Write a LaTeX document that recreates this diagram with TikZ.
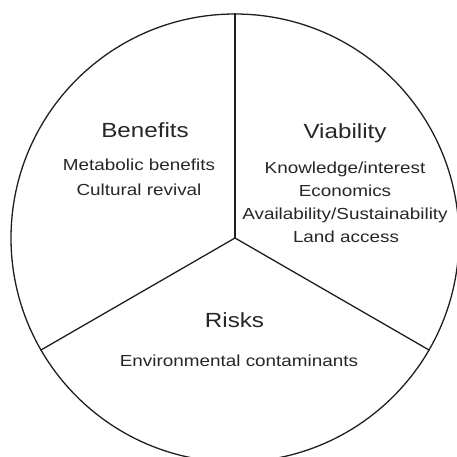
\documentclass[tikz,border=0pt]{standalone}
\usepackage{fontspec}
\setmainfont{Liberation Sans}[FakeStretch=1.18]
\begin{document}
\begin{tikzpicture}[x=1pt,y=-1pt,
  ink/.style={draw=black!88, line width=1.3pt},
  title/.style={anchor=base, inner sep=0pt, text=black!85, font=\fontsize{20.5}{24}\selectfont},
  item/.style={anchor=base, inner sep=0pt, text=black!85, font=\fontsize{16}{19}\selectfont}]
  \useasboundingbox (0,0) rectangle (456,457);
  % the wheel and its three spokes
  \coordinate (o) at (235,238);
  \node[circle, ink, minimum size=448pt, inner sep=0pt] (wheel) at (o) {};
  \draw[ink, line join=round] (wheel.90) -- (o);
  \draw[ink, line join=round] (wheel.210) -- (o) -- (wheel.330);
  % Benefits
  \node[title] (bt) at (145,137.7) {Benefits};
  \node[item] (b1) at (139,171) {Metabolic benefits};
  \node[item] (b2) at (139,195.3) {Cultural revival};
  % Viability
  \node[title] (vt) at (345,138.3) {Viability};
  \node[item] (v1) at (345,173.3) {Knowledge/interest};
  \node[item] (v2) at (345,196.3) {Economics};
  \node[item] (v3) at (345,219.3) {Availability/Sustainability};
  \node[item] (v4) at (346,242.5) {Land access};
  % Risks
  \node[title] (rt) at (234.5,327) {Risks};
  \node[item] (r1) at (239,366.7) {Environmental contaminants};
\end{tikzpicture}
\end{document}
